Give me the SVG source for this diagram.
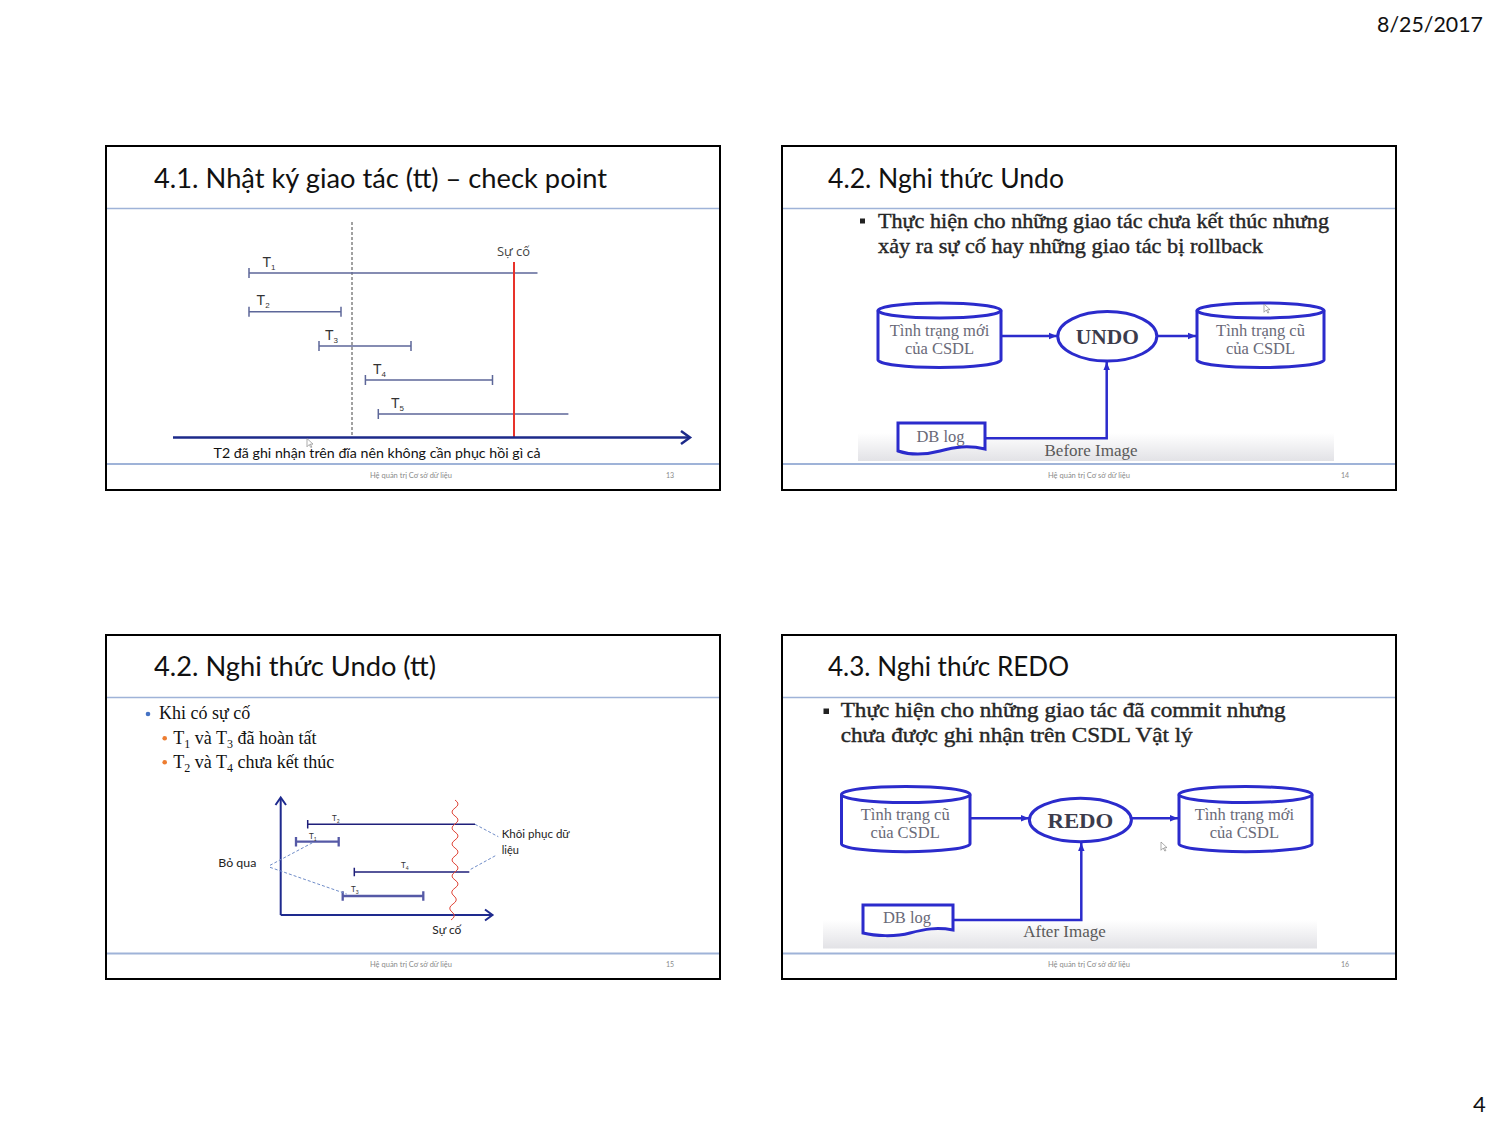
<svg xmlns="http://www.w3.org/2000/svg" width="1499" height="1124" viewBox="0 0 1499 1124">
<style>
.frame{fill:#fff;stroke:#000;stroke-width:2}
.hdr{stroke:#9fb3d8;stroke-width:1.5}
.ftr{stroke:#9fb3d8;stroke-width:2}
.title{font-family:Lato,"Open Sans",sans-serif;font-size:27px;fill:#111}
.foot{font-family:Lato,"Open Sans",sans-serif;font-size:7px;fill:#8a8a8a}
.tl{stroke:#5d6799;stroke-width:1.5;fill:none}
.tlab{font-family:"Liberation Sans",Arial,sans-serif;font-size:14px;fill:#333}
.sub{font-size:8px}
.serif{font-family:"Liberation Serif","Times New Roman",serif}
.blue{stroke:#2b2bcc;stroke-width:3;fill:#fff}
.bl{stroke:#2b2bcc;stroke-width:2.5;fill:none}
.cyltxt{font-family:"Liberation Serif","Times New Roman",serif;font-size:16.5px;fill:#6a6a78;text-anchor:middle}
.op{font-family:"Liberation Serif","Times New Roman",serif;font-size:22px;font-weight:bold;fill:#3c3c4c;text-anchor:middle}
.bul{font-family:"Liberation Serif","Times New Roman",serif;font-size:21px;fill:#262626;stroke:#262626;stroke-width:0.4}
.cap{font-family:"Liberation Serif","Times New Roman",serif;font-size:17px;fill:#5a5a5a;text-anchor:middle}
.small{font-family:Lato,"Open Sans",sans-serif;font-size:11px;fill:#222}
.tiny{font-family:Lato,"Open Sans",sans-serif;font-size:8px;fill:#333}
.cursor{fill:#fff;stroke:#777;stroke-width:0.8}
</style>
<defs>
<marker id="ah" viewBox="0 0 10 10" refX="10" refY="5" markerWidth="8" markerHeight="8" markerUnits="userSpaceOnUse" orient="auto"><path d="M0,1 L10,5 L0,9 z" fill="#2b2bcc"/></marker>
<linearGradient id="band" x1="0" y1="0" x2="0" y2="1"><stop offset="0" stop-color="#ffffff"/><stop offset="1" stop-color="#e2e2e6"/></linearGradient>
</defs>
<rect width="1499" height="1124" fill="#fff"/>
<g id="page-header">
<text x="1377" y="31.5" font-family="Lato,'Open Sans',sans-serif" font-size="22" fill="#111" textLength="106" lengthAdjust="spacingAndGlyphs">8/25/2017</text>
<text x="1473" y="1111.5" font-family="Lato,'Open Sans',sans-serif" font-size="22" fill="#111">4</text>
</g>

<!-- Slide 1 -->
<g id="slide1">
<rect class="frame" x="106" y="146" width="614" height="344"/>
<line class="hdr" x1="107" y1="208.5" x2="719" y2="208.5"/>
<line class="ftr" x1="107" y1="464" x2="719" y2="464"/>
<text class="title" x="154" y="187.5" textLength="453" lengthAdjust="spacingAndGlyphs">4.1. Nhật ký giao tác (tt) – check point</text>
<line x1="352" y1="222" x2="352" y2="437" stroke="#444" stroke-width="1" stroke-dasharray="3 2"/>
<g id="s1-t1"><path class="tl" d="M249,273 H537.5 M249,268 V278"/><text class="tlab" x="262.5" y="267">T<tspan class="sub" dy="3">1</tspan></text></g>
<g id="s1-t2"><path class="tl" d="M249,311.7 H341 M249,306.7 V316.7 M341,306.7 V316.7"/><text class="tlab" x="256.6" y="305">T<tspan class="sub" dy="3">2</tspan></text></g>
<g id="s1-t3"><path class="tl" d="M319,346 H411 M319,341 V351 M411,341 V351"/><text class="tlab" x="325" y="340">T<tspan class="sub" dy="3">3</tspan></text></g>
<g id="s1-t4"><path class="tl" d="M365.4,380 H492.5 M365.4,375 V385 M492.5,375 V385"/><text class="tlab" x="373" y="374">T<tspan class="sub" dy="3">4</tspan></text></g>
<g id="s1-t5"><path class="tl" d="M378.3,414 H568.4 M378.3,409 V419"/><text class="tlab" x="391" y="408">T<tspan class="sub" dy="3">5</tspan></text></g>
<g id="s1-crash"><line x1="514" y1="262" x2="514" y2="437" stroke="#e8322a" stroke-width="2"/><text x="497" y="256" font-family="'Open Sans',Lato,sans-serif" font-size="12" fill="#444" textLength="33" lengthAdjust="spacingAndGlyphs">Sự cố</text></g>
<g id="s1-axis"><path d="M173,437.5 H689" stroke="#1c2a8a" stroke-width="2.5" fill="none"/><path d="M681,431 L690,437.5 L681,444" stroke="#1c2a8a" stroke-width="2.5" fill="none"/></g>
<path class="cursor" transform="translate(307,438.5) scale(0.75)" d="M0,0 L0,11 L3,8 L5,12 L6.5,11.5 L4.5,7.5 L8,7.5 Z"/>
<text x="213.6" y="458" font-family="Lato,'Open Sans',sans-serif" font-size="14" fill="#111" textLength="327" lengthAdjust="spacingAndGlyphs">T2 đã ghi nhận trên đĩa nên không cần phục hồi gì cả</text>
<text class="foot" x="370" y="477.5" textLength="82" lengthAdjust="spacingAndGlyphs">Hệ quản trị Cơ sở dữ liệu</text>
<text class="foot" x="666" y="477.5">13</text>
</g>

<!-- Slide 2 -->
<g id="slide2">
<rect class="frame" x="782" y="146" width="614" height="344"/>
<line class="hdr" x1="783" y1="208.5" x2="1395" y2="208.5"/>
<line class="ftr" x1="783" y1="464" x2="1395" y2="464"/>
<text class="title" x="828" y="187.5" textLength="236" lengthAdjust="spacingAndGlyphs">4.2. Nghi thức Undo</text>
<rect x="858" y="433" width="476" height="28" fill="url(#band)"/>
<rect x="860" y="218.5" width="5" height="5" fill="#222"/>
<text class="bul" x="878" y="228" textLength="451" lengthAdjust="spacingAndGlyphs">Thực hiện cho những giao tác chưa kết thúc nhưng</text>
<text class="bul" x="878" y="253" textLength="385" lengthAdjust="spacingAndGlyphs">xảy ra sự cố hay những giao tác bị rollback</text>
<g id="s2-connectors">
<line class="bl" x1="1001" y1="336" x2="1057" y2="336" marker-end="url(#ah)"/>
<line class="bl" x1="1157" y1="336" x2="1196" y2="336" marker-end="url(#ah)"/>
<path class="bl" d="M985,438.3 H1106.7 V362" marker-end="url(#ah)"/>
</g>
<g id="s2-db-new">
<path class="blue" d="M878,310.5 V360 A61.5,7.5 0 0 0 1001,360 V310.5"/>
<ellipse class="blue" cx="939.5" cy="310.5" rx="61.5" ry="7.5"/>
<text class="cyltxt" x="939.5" y="336">Tình trạng mới</text>
<text class="cyltxt" x="939.5" y="354">của CSDL</text>
</g>
<g id="s2-undo">
<ellipse class="blue" cx="1107.3" cy="336.3" rx="49.5" ry="24.7"/>
<text class="op" x="1107.3" y="344" textLength="63" lengthAdjust="spacingAndGlyphs">UNDO</text>
</g>
<g id="s2-db-old">
<path class="blue" d="M1197,310.5 V360 A63.5,7.5 0 0 0 1324,360 V310.5"/>
<ellipse class="blue" cx="1260.5" cy="310.5" rx="63.5" ry="7.5"/>
<text class="cyltxt" x="1260.5" y="336">Tình trạng cũ</text>
<text class="cyltxt" x="1260.5" y="354">của CSDL</text>
</g>
<g id="s2-dblog">
<path class="blue" d="M898,423 H985 V449 C968,445 955,447 940,451 C925,455 910,455 898,451 Z"/>
<text class="cyltxt" x="940.5" y="441.5" fill="#555">DB log</text>
</g>
<text class="cap" x="1091" y="455.5">Before Image</text>
<path class="cursor" transform="translate(1264,304) scale(0.75)" d="M0,0 L0,11 L3,8 L5,12 L6.5,11.5 L4.5,7.5 L8,7.5 Z"/>
<text class="foot" x="1048" y="477.5" textLength="82" lengthAdjust="spacingAndGlyphs">Hệ quản trị Cơ sở dữ liệu</text>
<text class="foot" x="1341" y="477.5">14</text>
</g>

<!-- Slide 3 -->
<g id="slide3">
<rect class="frame" x="106" y="635" width="614" height="344"/>
<line class="hdr" x1="107" y1="697.5" x2="719" y2="697.5"/>
<line class="ftr" x1="107" y1="953.5" x2="719" y2="953.5"/>
<text class="title" x="154" y="676" textLength="282" lengthAdjust="spacingAndGlyphs">4.2. Nghi thức Undo (tt)</text>
<circle cx="148" cy="714" r="2.3" fill="#4472c4"/>
<text class="serif" x="159" y="719" font-size="18" fill="#111">Khi có sự cố</text>
<circle cx="164.7" cy="738.3" r="2.3" fill="#ed7d31"/>
<text class="serif" x="173.3" y="743.5" font-size="18" fill="#111">T<tspan font-size="12" dy="4">1</tspan><tspan dy="-4"> và T</tspan><tspan font-size="12" dy="4">3</tspan><tspan dy="-4"> đã hoàn tất</tspan></text>
<circle cx="164.7" cy="762.3" r="2.3" fill="#ed7d31"/>
<text class="serif" x="173.3" y="767.5" font-size="18" fill="#111">T<tspan font-size="12" dy="4">2</tspan><tspan dy="-4"> và T</tspan><tspan font-size="12" dy="4">4</tspan><tspan dy="-4"> chưa kết thúc</tspan></text>
<g id="s3-axes">
<path d="M280.7,915 V798 M280.7,915 H492" stroke="#1e2a8e" stroke-width="2" fill="none"/>
<path d="M275.5,805 L280.7,797.5 L286,805 M485,909.5 L492.5,915 L485,920.5" stroke="#1e2a8e" stroke-width="2" fill="none"/>
</g>
<g id="s3-t2"><path d="M307.7,824.3 H475 M307.7,820 V828.6" stroke="#1f1f7a" stroke-width="1.5" fill="none"/><text class="tiny" x="332" y="821">T<tspan font-size="5" dy="2">2</tspan></text></g>
<g id="s3-t1"><path d="M296,841.7 H338.7 M296,837 V846.4 M338.7,837 V846.4" stroke="#5559a6" stroke-width="2.3" fill="none"/><text class="tiny" x="309" y="838.5">T<tspan font-size="5" dy="2">1</tspan></text></g>
<g id="s3-t4"><path d="M354.3,872 H469.3 M354.3,867.7 V876.3" stroke="#1f1f7a" stroke-width="1.5" fill="none"/><text class="tiny" x="401" y="868">T<tspan font-size="5" dy="2">4</tspan></text></g>
<g id="s3-t3"><path d="M342.7,896 H423.3 M342.7,891.3 V900.7 M423.3,891.3 V900.7" stroke="#5559a6" stroke-width="2.3" fill="none"/><text class="tiny" x="351" y="892.3">T<tspan font-size="5" dy="2">3</tspan></text></g>
<g id="s3-crash"><path d="M455,800 q 6 4 0 8 t 0 8 t 0 8 t 0 8 t 0 8 t 0 8 t 0 8 t 0 8 t 0 8 t 0 8 t 0 8 t -1 8 t -1 8 t -1 8 t -1 8" stroke="#e0473a" stroke-width="1" fill="none"/><text class="small" x="432.3" y="934" textLength="29" lengthAdjust="spacingAndGlyphs">Sự cố</text></g>
<g id="s3-connectors" stroke="#6f8cc8" stroke-width="1" stroke-dasharray="3 2" fill="none">
<path d="M270,865.3 L313.3,842.3"/>
<path d="M270,867.3 L346.7,894"/>
<path d="M475,824.3 L498.3,836.7"/>
<path d="M470.7,869.3 L496.7,855"/>
</g>
<text class="small" x="218.3" y="867.3" textLength="38" lengthAdjust="spacingAndGlyphs">Bỏ qua</text>
<text class="small" x="501.7" y="838.3" textLength="68" lengthAdjust="spacingAndGlyphs">Khôi phục dữ</text>
<text class="small" x="501.7" y="854">liệu</text>
<text class="foot" x="370" y="966.5" textLength="82" lengthAdjust="spacingAndGlyphs">Hệ quản trị Cơ sở dữ liệu</text>
<text class="foot" x="666" y="966.5">15</text>
</g>

<!-- Slide 4 -->
<g id="slide4">
<rect class="frame" x="782" y="635" width="614" height="344"/>
<line class="hdr" x1="783" y1="697.5" x2="1395" y2="697.5"/>
<line class="ftr" x1="783" y1="953.5" x2="1395" y2="953.5"/>
<text class="title" x="828" y="676" textLength="241" lengthAdjust="spacingAndGlyphs">4.3. Nghi thức REDO</text>
<rect x="823" y="920" width="494" height="28.5" fill="url(#band)"/>
<rect x="823.5" y="708.5" width="5.5" height="5.5" fill="#222"/>
<text class="bul" x="840.7" y="717" textLength="445" lengthAdjust="spacingAndGlyphs">Thực hiện cho những giao tác đã commit nhưng</text>
<text class="bul" x="840.7" y="742" textLength="352" lengthAdjust="spacingAndGlyphs">chưa được ghi nhận trên CSDL Vật lý</text>
<g id="s4-connectors">
<line class="bl" x1="970" y1="818.3" x2="1029" y2="818.3" marker-end="url(#ah)"/>
<line class="bl" x1="1131.4" y1="818.3" x2="1178" y2="818.3" marker-end="url(#ah)"/>
<path class="bl" d="M953,920 H1081.3 V843" marker-end="url(#ah)"/>
</g>
<g id="s4-db-old">
<path class="blue" d="M841.5,794.5 V843.7 A64.25,8 0 0 0 970,843.7 V794.5"/>
<ellipse class="blue" cx="905.75" cy="794.5" rx="64.25" ry="8"/>
<text class="cyltxt" x="905.2" y="820">Tình trạng cũ</text>
<text class="cyltxt" x="905.2" y="837.7">của CSDL</text>
</g>
<g id="s4-redo">
<ellipse class="blue" cx="1080.4" cy="820" rx="51" ry="21.7"/>
<text class="op" x="1080.4" y="827.7" textLength="66" lengthAdjust="spacingAndGlyphs">REDO</text>
</g>
<g id="s4-db-new">
<path class="blue" d="M1179,794.5 V843.7 A66.5,8 0 0 0 1312,843.7 V794.5"/>
<ellipse class="blue" cx="1245.5" cy="794.5" rx="66.5" ry="8"/>
<text class="cyltxt" x="1244.4" y="820">Tình trạng mới</text>
<text class="cyltxt" x="1244.4" y="837.7">của CSDL</text>
</g>
<g id="s4-dblog">
<path class="blue" d="M863,905 H953 V930 C937,927 925,929 910,933 C895,937 875,936 863,933 Z"/>
<text class="cyltxt" x="907" y="922.5" fill="#555">DB log</text>
</g>
<text class="cap" x="1064.5" y="937">After Image</text>
<path class="cursor" transform="translate(1161,842) scale(0.75)" d="M0,0 L0,11 L3,8 L5,12 L6.5,11.5 L4.5,7.5 L8,7.5 Z"/>
<text class="foot" x="1048" y="966.5" textLength="82" lengthAdjust="spacingAndGlyphs">Hệ quản trị Cơ sở dữ liệu</text>
<text class="foot" x="1341" y="966.5">16</text>
</g>
</svg>
